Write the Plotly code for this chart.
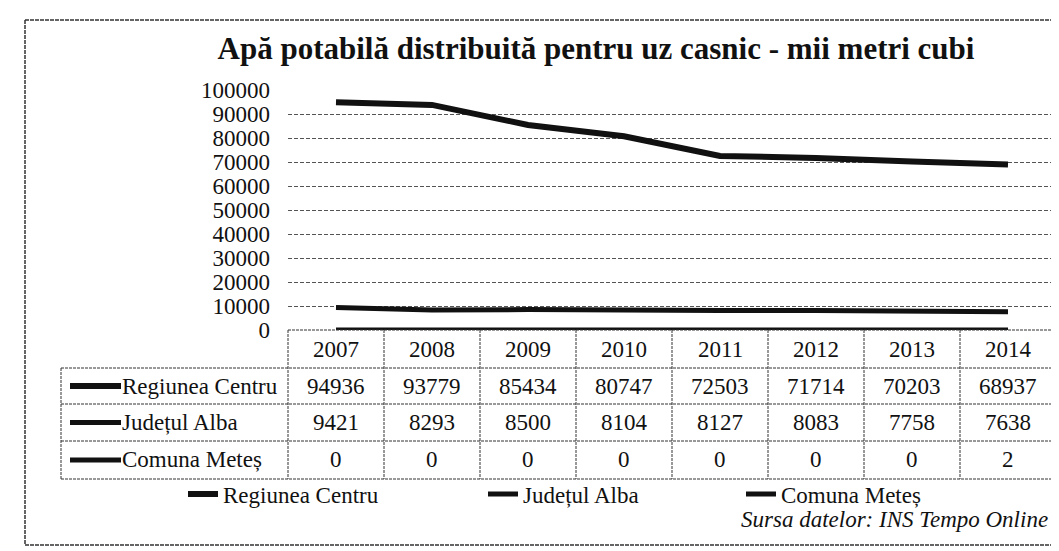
import plotly.graph_objects as go

# ---- data ----
years = ["2007", "2008", "2009", "2010", "2011", "2012", "2013", "2014"]
series_names = ["Regiunea Centru", "Județul Alba", "Comuna Meteș"]
regiunea_centru = [94936, 93779, 85434, 80747, 72503, 71714, 70203, 68937]
judetul_alba = [9421, 8293, 8500, 8104, 8127, 8083, 7758, 7638]
comuna_metes = [0, 0, 0, 0, 0, 0, 0, 2]
y_ticks = [0, 10000, 20000, 30000, 40000, 50000, 60000, 70000, 80000, 90000, 100000]

title_text = "Apă potabilă distribuită pentru uz casnic - mii metri cubi"
source_text = "Sursa datelor: INS Tempo Online"

# ---- layout geometry (pixels) ----
FW, FH = 1059, 551
L, R, T, B = 280, 11, 82, 229
W = FW - L - R
H = FH - T - B
FONT = "Liberation Serif"
INK = "#111111"
GRID = "#555555"


def px(x):
    return (x - L) / W


def py(y):
    return (T + H - y) / H


series = [regiunea_centru, judetul_alba, comuna_metes]
widths = [6, 5, 5]
legend_ids = ["legend", "legend2", "legend3"]

fig = go.Figure()
for name, vals, w, lg in zip(series_names, series, widths, legend_ids):
    fig.add_trace(go.Scatter(
        x=years, y=vals, name=name, mode="lines",
        line=dict(color=INK, width=w), legend=lg,
    ))

# ---- data table (shapes + annotations) ----
n = len(years)
row_edges = [322, 360, 396, 433, 471]  # header top, header bottom, row bottoms
label_left = 53
shapes = []
line_style = dict(color="#333333", width=1, dash="3px,1px")

shapes.append(dict(type="line", xref="paper", yref="paper", x0=0, x1=1,
                   y0=py(row_edges[0]), y1=py(row_edges[0]), line=line_style))
for ye in row_edges[1:]:
    shapes.append(dict(type="line", xref="paper", yref="paper", x0=px(label_left), x1=1,
                       y0=py(ye), y1=py(ye), line=line_style))
for i in range(n + 1):
    shapes.append(dict(type="line", xref="paper", yref="paper", x0=i / n, x1=i / n,
                       y0=py(row_edges[0]), y1=py(row_edges[-1]), line=line_style))
shapes.append(dict(type="line", xref="paper", yref="paper", x0=px(label_left), x1=px(label_left),
                   y0=py(row_edges[1]), y1=py(row_edges[-1]), line=line_style))

annotations = []
cell_font = dict(family=FONT, size=23, color=INK)
hy = py((row_edges[0] + row_edges[1]) / 2)
for i, yr in enumerate(years):
    annotations.append(dict(x=(i + 0.5) / n, y=hy, xref="paper", yref="paper", text=yr,
                            showarrow=False, font=cell_font, xanchor="center", yanchor="middle"))
for r, (name, vals, w) in enumerate(zip(series_names, series, widths)):
    yc = py((row_edges[r + 1] + row_edges[r + 2]) / 2)
    shapes.append(dict(type="line", xref="paper", yref="paper", x0=px(62), x1=px(113),
                       y0=yc, y1=yc, line=dict(color=INK, width=w)))
    annotations.append(dict(x=px(112), y=yc, xref="paper", yref="paper", text=name,
                            showarrow=False, font=cell_font, xanchor="left", yanchor="middle"))
    for i, v in enumerate(vals):
        annotations.append(dict(x=(i + 0.5) / n, y=yc, xref="paper", yref="paper", text=str(v),
                                showarrow=False, font=cell_font, xanchor="center", yanchor="middle"))

annotations.append(dict(x=px(1042), y=py(511), xref="paper", yref="paper", text=source_text,
                        showarrow=False, xanchor="right", yanchor="middle",
                        font=dict(family=FONT, size=23, color=INK, style="italic")))

frame = dict(color="#333333", width=1.5, dash="4px,1px")
shapes.append(dict(type="line", xref="paper", yref="paper", x0=px(17), x1=px(17), y0=py(12), y1=py(537), line=frame))
shapes.append(dict(type="line", xref="paper", yref="paper", x0=px(17), x1=px(1059), y0=py(12), y1=py(12), line=frame))
shapes.append(dict(type="line", xref="paper", yref="paper", x0=px(17), x1=px(1059), y0=py(537), y1=py(537), line=frame))

legend_font = dict(family=FONT, size=23, color=INK)
legend_common = dict(orientation="h", yanchor="middle", y=py(486), xanchor="left",
                     font=legend_font, bgcolor="rgba(0,0,0,0)", itemwidth=30)

fig.update_layout(
    width=FW, height=FH,
    margin=dict(l=L, r=R, t=T, b=B),
    paper_bgcolor="white", plot_bgcolor="white",
    font=dict(family=FONT, size=22, color=INK),
    title=dict(text=f"<b>{title_text}</b>", font=dict(family=FONT, size=31, color=INK),
               x=px(588), xanchor="center", xref="paper",
               y=1 - 40 / FH, yanchor="middle"),
    xaxis=dict(type="category", categoryorder="array", categoryarray=years,
               range=[-0.5, n - 0.5], showticklabels=False, showgrid=False,
               zeroline=False, showline=False, ticks=""),
    yaxis=dict(range=[0, 100000], tickvals=y_ticks, ticktext=[str(t) for t in y_ticks],
               showgrid=True, gridcolor=GRID, gridwidth=1, griddash="4px,2px",
               zeroline=False, showline=False, ticks="", ticklabelstandoff=17,
               tickfont=dict(family=FONT, size=23, color=INK)),
    legend=dict(x=px(175), **legend_common),
    legend2=dict(x=px(475), **legend_common),
    legend3=dict(x=px(733), **legend_common),
    shapes=shapes,
    annotations=annotations,
    showlegend=True,
)

fig.write_html("out.html")
